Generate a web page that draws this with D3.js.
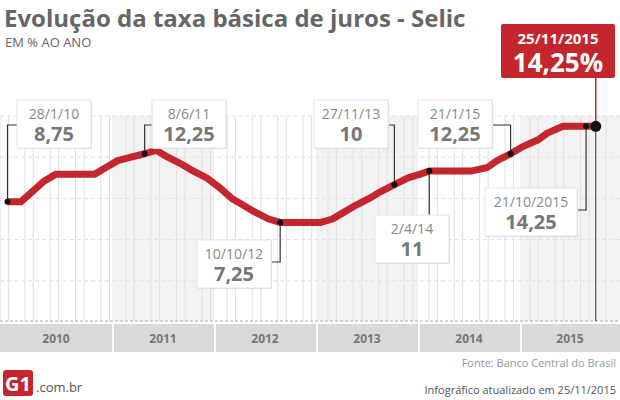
<!DOCTYPE html>
<html><head><meta charset="utf-8">
<script src="https://cdn.jsdelivr.net/npm/d3@7"></script>
<style>body{margin:0;background:#fff}text{font-family:"Open Sans",Arial,sans-serif}</style>
</head><body><div id="viz"></div>
<script>
// Selic decisions (date, % per year)
const dates = ["2010-01-28","2010-03-17","2010-04-28","2010-06-09","2010-07-21","2010-09-01","2010-10-20","2010-12-08",
  "2011-01-19","2011-03-02","2011-04-20","2011-06-08","2011-07-20","2011-08-31","2011-10-19","2011-11-30",
  "2012-01-18","2012-03-07","2012-04-18","2012-05-30","2012-07-11","2012-08-29","2012-10-10","2012-11-28",
  "2013-01-16","2013-03-06","2013-04-17","2013-05-29","2013-07-10","2013-08-28","2013-10-09","2013-11-27",
  "2014-01-15","2014-02-26","2014-04-02","2014-05-28","2014-07-16","2014-09-03","2014-10-29","2014-12-03",
  "2015-01-21","2015-03-04","2015-04-29","2015-06-03","2015-07-29","2015-09-02","2015-10-21","2015-11-25"];
const rates = [8.75,8.75,9.5,10.25,10.75,10.75,10.75,10.75,
  11.25,11.75,12,12.25,12.5,12,11.5,11,
  10.5,9.75,9,8.5,8,7.5,7.25,7.25,
  7.25,7.25,7.5,8,8.5,9,9.5,10,
  10.5,10.75,11,11,11,11,11.25,11.75,
  12.25,12.75,13.25,13.75,14.25,14.25,14.25,14.25];
const years = [2010,2011,2012,2013,2014,2015];
const yTicks = [3,6,9,12,15];

// annotations: date, date label, value label, box placement
const notes = [
  {date:"2010-01-28", dl:"28/1/10", vl:"8,75", bx:17, by:100, dir:"up"},
  {date:"2011-06-08", dl:"8/6/11", vl:"12,25", bx:152, by:100, dir:"up"},
  {date:"2012-10-10", dl:"10/10/12", vl:"7,25", bx:197, by:240, dir:"downL"},
  {date:"2013-11-27", dl:"27/11/13", vl:"10", bx:314, by:100, dir:"upL"},
  {date:"2014-04-02", dl:"2/4/14", vl:"11", bx:375, by:215, dir:"down"},
  {date:"2015-01-21", dl:"21/1/15", vl:"12,25", bx:418, by:100, dir:"upL"},
  {date:"2015-10-21", dl:"21/10/2015", vl:"14,25", bx:485, by:188, dir:"downL", w:92}
];

const W = 620, H = 400, plotTop = 116, base = 321;
const parse = d3.timeParse("%Y-%m-%d");
const data = dates.map((d,i)=>({d:parse(d), v:rates[i]}));

const svg = d3.select("#viz").append("svg").attr("width",W).attr("height",H);
const x = d3.scaleTime().domain([new Date(2010,0,1), new Date(2016,0,1)]).range([0,606]);
const y = d3.scaleLinear().domain([0,15]).range([322,116]);
const band = d3.scaleLinear().domain([2010,2016]).range([10,622]);

// alternate year shading + year labels
years.forEach((yr,i)=>{
  const x0 = i ? band(yr) : 0, x1 = yr===2015 ? W : band(yr+1);
  if (i%2===1) svg.append("rect").attr("x",x0).attr("y",plotTop).attr("width",x1-x0).attr("height",base-plotTop).attr("fill","#f2f2f2");
  svg.append("rect").attr("x",x0+(i?2:0)).attr("y",324).attr("width",x1-x0-(i?2:0)).attr("height",28).attr("fill","#d9d9d9");
  svg.append("text").attr("x",(x0+x1)/2).attr("y",343).attr("text-anchor","middle")
    .attr("font-size",12).attr("font-weight","bold").attr("fill","#777").text(yr);
});
// vertical grid
d3.range(0,49).forEach(k=>{
  const xv = x(new Date(2010, k*1.5, 1));
  svg.append("line").attr("x1",xv).attr("x2",xv).attr("y1",plotTop).attr("y2",base).attr("stroke","#e0e0e0");
});
// horizontal dashed grid
yTicks.forEach(t=>svg.append("line").attr("x1",0).attr("x2",W).attr("y1",y(t)).attr("y2",y(t))
  .attr("stroke","#e0e0e0").attr("stroke-dasharray","4,3"));
svg.append("line").attr("x1",0).attr("x2",W).attr("y1",base).attr("y2",base).attr("stroke","#aaa").attr("stroke-dasharray","3,2");

const last = data[data.length-1];
// vertical marker line to baseline
svg.append("line").attr("x1",x(last.d)).attr("x2",x(last.d)).attr("y1",y(last.v)).attr("y2",base).attr("stroke","#333");

// line
svg.append("path").datum(data).attr("fill","none").attr("stroke","#c4262e").attr("stroke-width",7)
  .attr("stroke-linejoin","round").attr("d",d3.line().x(d=>x(d.d)).y(d=>y(d.v)));

// annotations
notes.forEach(n=>{
  const p = data.find(d=>+d.d===+parse(n.date));
  const px = x(p.d), py = y(p.v), w = n.w||74, h = 48;
  let path;
  const midY = n.by + 25;
  if (n.dir==="up") path = `M${px},${py}V${midY}H${n.bx}`;
  else if (n.dir==="upL") path = `M${px},${py}V${midY}H${n.bx+w}`;
  else if (n.dir==="downL") path = `M${px},${py}V${n.by+22}H${n.bx+w}`;
  else path = `M${px},${py}V${n.by}`;
  svg.append("path").attr("d",path).attr("fill","none").attr("stroke","#333").attr("stroke-width",1.2);
  svg.append("rect").attr("x",n.bx+1).attr("y",n.by+1).attr("width",w).attr("height",h).attr("fill","#ddd");
  svg.append("rect").attr("x",n.bx).attr("y",n.by).attr("width",w).attr("height",h).attr("fill","#fff").attr("stroke","#e6e6e6");
  svg.append("text").attr("x",n.bx+w/2).attr("y",n.by+19).attr("text-anchor","middle").attr("font-size",14).attr("fill","#888").text(n.dl);
  svg.append("text").attr("x",n.bx+w/2).attr("y",n.by+41).attr("text-anchor","middle").attr("font-size",20).attr("font-weight","bold").attr("fill","#777").text(n.vl);
  svg.append("circle").attr("cx",px).attr("cy",py).attr("r",3).attr("fill","#111");
});

// highlight box
svg.append("line").attr("x1",x(last.d)).attr("x2",x(last.d)).attr("y1",76).attr("y2",y(last.v)).attr("stroke","#c4262e").attr("stroke-width",1.5);
svg.append("rect").attr("x",501).attr("y",24).attr("width",114).attr("height",54).attr("rx",2).attr("fill","#c4262e");
svg.append("text").attr("x",558).attr("y",44).attr("text-anchor","middle").attr("font-size",15).attr("font-weight","bold").attr("fill","#fff").text("25/11/2015");
svg.append("text").attr("x",558).attr("y",72).attr("text-anchor","middle").attr("font-size",26).attr("font-weight","bold").attr("fill","#fff").text("14,25%");
svg.append("circle").attr("cx",x(last.d)).attr("cy",y(last.v)).attr("r",5.5).attr("fill","#111");

// titles
svg.append("text").attr("x",4).attr("y",27).attr("font-size",24).attr("font-weight","bold").attr("fill","#666").text("Evolução da taxa básica de juros - Selic");
svg.append("text").attr("x",5).attr("y",47).attr("font-size",13).attr("fill","#666").text("EM % AO ANO");
svg.append("text").attr("x",616).attr("y",367).attr("text-anchor","end").attr("font-size",11).attr("fill","#999").text("Fonte: Banco Central do Brasil");
svg.append("text").attr("x",616).attr("y",394).attr("text-anchor","end").attr("font-size",11).attr("fill","#555").text("Infográfico atualizado em 25/11/2015");
// G1 logo
svg.append("rect").attr("x",3).attr("y",370).attr("width",30).attr("height",26).attr("rx",3).attr("fill","#c4262e");
svg.append("text").attr("x",18).attr("y",391).attr("text-anchor","middle").attr("font-size",20).attr("font-weight","bold").attr("fill","#fff").text("G1");
svg.append("text").attr("x",36).attr("y",392).attr("font-size",13).attr("fill","#555").text(".com.br");
</script></body></html>
